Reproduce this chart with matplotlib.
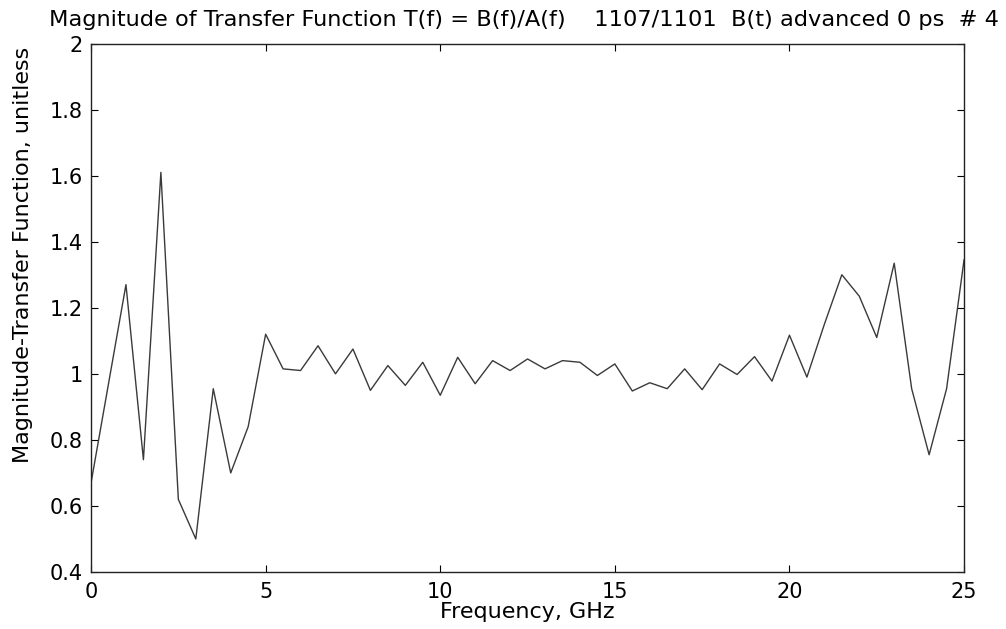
import numpy as np
import matplotlib
matplotlib.use('Agg')
import matplotlib.pyplot as plt
from matplotlib.ticker import FormatStrFormatter

plt.rcParams['font.family'] = ['DejaVu Sans']

# frequency samples, GHz (0.5 GHz steps)
freq = np.arange(0, 25.5, 0.5)
# magnitude of T(f)
mag = [0.67, 0.97, 1.27, 0.74, 1.61, 0.62, 0.50, 0.955, 0.70, 0.84,
       1.12, 1.015, 1.01, 1.085, 1.0, 1.075, 0.95, 1.025, 0.965, 1.035,
       0.935, 1.05, 0.97, 1.04, 1.01, 1.045, 1.015, 1.04, 1.035, 0.995,
       1.03, 0.948, 0.973, 0.955, 1.015, 0.952, 1.03, 0.998, 1.052, 0.978,
       1.117, 0.99, 1.15, 1.30, 1.235, 1.11, 1.335, 0.955, 0.755, 0.955,
       1.345]

xticks = [0, 5, 10, 15, 20, 25]
yticks = [0.4, 0.6, 0.8, 1.0, 1.2, 1.4, 1.6, 1.8, 2.0]
title = 'Magnitude of Transfer Function T(f) = B(f)/A(f)    1107/1101  B(t) advanced 0 ps  # 4'

fig = plt.figure(figsize=(10.06, 6.29), dpi=100)
# axes box: x 91..964 px, y 43.5..572 px
ax = fig.add_axes([0.0905, 0.0906, 0.8678, 0.8402])
ax.plot(freq, mag, color='#3a3a3a', lw=1.0)

ax.set_xlim(0, 25)
ax.set_ylim(0.4, 2.0)
ax.set_xticks(xticks)
ax.set_yticks(yticks)
ax.yaxis.set_major_formatter(FormatStrFormatter('%g'))
ax.tick_params(direction='in', top=True, right=True, length=5,
               labelsize=15, colors='black', width=0.8)
ax.tick_params(axis='x', pad=7)
ax.tick_params(axis='y', pad=6)
for s in ax.spines.values():
    s.set_linewidth(1.0)
    s.set_color('#222222')

ax.set_xlabel('Frequency, GHz', fontsize=16)
ax.xaxis.set_label_coords(0.5, -0.056)
ax.set_ylabel('Magnitude-Transfer Function, unitless', fontsize=16)
ax.yaxis.set_label_coords(-0.066, 0.60)
fig.text(49 / 1006, 1 - 26 / 629, title, fontsize=16.2, ha='left', va='baseline')

fig.savefig('out.png', dpi=100)
